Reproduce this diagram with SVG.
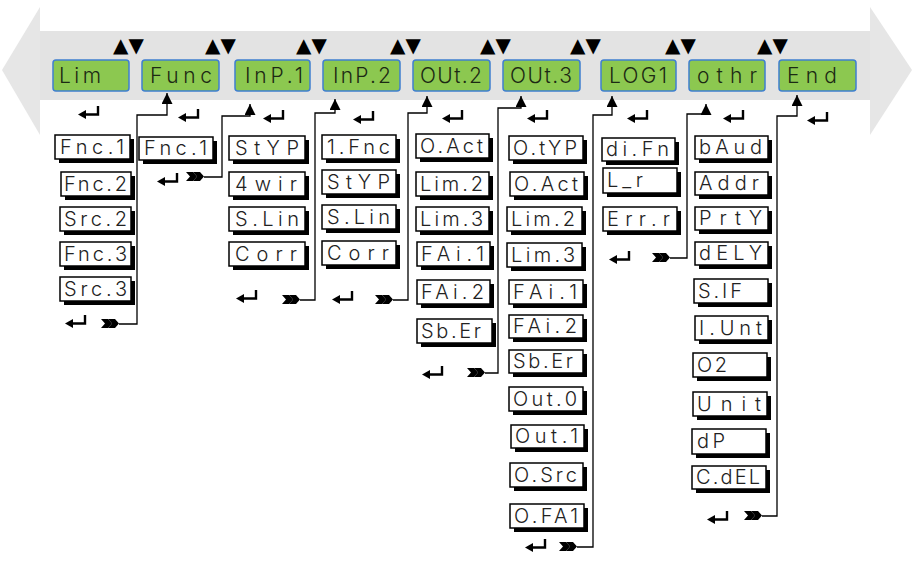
<svg xmlns="http://www.w3.org/2000/svg" width="914" height="563" viewBox="0 0 914 563">
<style>
.band{fill:#e3e3e3}
.head{fill:#e6e6e6}
.gbox{fill:#8cc850;stroke:#3f7fd0;stroke-width:1.5}
.gtxt{font-family:Inter,"DejaVu Sans",sans-serif;font-weight:300;font-size:21px;fill:#1c2a14}
.nav{font-family:"DejaVu Sans",sans-serif;font-size:20px;fill:#000}
.lcd{fill:#fff;stroke:#000;stroke-width:1.5}
.sh{fill:#000}
.ltxt{font-family:Inter,"DejaVu Sans",sans-serif;font-weight:300;font-size:20px;fill:#222}
.con{fill:none;stroke:#000;stroke-width:1.3}
</style>
<defs>
<marker id="ah" markerUnits="userSpaceOnUse" markerWidth="11" markerHeight="11" viewBox="0 0 10 10" refX="10" refY="5" orient="auto">
<path d="M0,0 L10,5 L0,10 z" fill="#000"/>
</marker>
<g id="ent">
<path d="M20,0 V8.5 H7" fill="none" stroke="#000" stroke-width="2.4"/>
<polygon points="0,8.5 8,4 8,13" fill="#000"/>
</g>
<g id="dbl">
<polygon points="0,0 7,0 11,4.5 7,9 0,9 4,4.5" fill="#000"/>
<polygon points="7,0 14,0 18,4.5 14,9 7,9 11,4.5" fill="#000"/>
</g>
</defs>
<rect width="914" height="563" fill="#fff"/>
<g id="banner">
<rect class="band" x="38" y="31" width="834" height="69"/>
<polygon class="head" points="40,7 2,70 40,135"/>
<polygon class="head" points="870,7 912,70 870,135"/>
</g>
<g id="menu">
<g id="m-lim"><rect class="gbox" x="53" y="60" width="76" height="31" rx="3"/><text class="gtxt" x="59" y="83" textLength="42" lengthAdjust="spacing">Lim</text></g>
<g id="m-func"><rect class="gbox" x="142" y="60" width="77" height="31" rx="3"/><text class="gtxt" x="150" y="83" textLength="62" lengthAdjust="spacing">Func</text></g>
<g id="m-inp1"><rect class="gbox" x="235" y="60" width="75" height="31" rx="3"/><text class="gtxt" x="245" y="83" textLength="58" lengthAdjust="spacing">InP.1</text></g>
<g id="m-inp2"><rect class="gbox" x="323" y="60" width="77" height="31" rx="3"/><text class="gtxt" x="333" y="83" textLength="58" lengthAdjust="spacing">InP.2</text></g>
<g id="m-out2"><rect class="gbox" x="413" y="60" width="77" height="31" rx="3"/><text class="gtxt" x="420" y="83" textLength="62" lengthAdjust="spacing">OUt.2</text></g>
<g id="m-out3"><rect class="gbox" x="503" y="60" width="77" height="31" rx="3"/><text class="gtxt" x="510" y="83" textLength="62" lengthAdjust="spacing">OUt.3</text></g>
<g id="m-log1"><rect class="gbox" x="601" y="60" width="75" height="31" rx="3"/><text class="gtxt" x="609" y="83" textLength="58" lengthAdjust="spacing">LOG1</text></g>
<g id="m-othr"><rect class="gbox" x="689" y="60" width="76" height="31" rx="3"/><text class="gtxt" x="697" y="83" textLength="60" lengthAdjust="spacing">othr</text></g>
<g id="m-end"><rect class="gbox" x="779" y="60" width="77" height="31" rx="3"/><text class="gtxt" x="787" y="83" textLength="50" lengthAdjust="spacing">End</text></g>
</g>
<g id="navkeys">
<text class="nav" x="113" y="52">▲▼</text>
<text class="nav" x="205" y="52">▲▼</text>
<text class="nav" x="296" y="52">▲▼</text>
<text class="nav" x="390" y="52">▲▼</text>
<text class="nav" x="480" y="52">▲▼</text>
<text class="nav" x="570" y="52">▲▼</text>
<text class="nav" x="665" y="52">▲▼</text>
<text class="nav" x="757" y="52">▲▼</text>
</g>
<g id="enterkeys">
<use href="#ent" x="78" y="106"/>
<use href="#ent" x="178" y="109"/>
<use href="#ent" x="263" y="110"/>
<use href="#ent" x="353" y="111"/>
<use href="#ent" x="442" y="110"/>
<use href="#ent" x="527" y="110"/>
<use href="#ent" x="627" y="110"/>
<use href="#ent" x="723" y="110"/>
<use href="#ent" x="807" y="112"/>
<use href="#ent" x="65" y="315"/>
<use href="#ent" x="157" y="173"/>
<use href="#ent" x="236" y="290"/>
<use href="#ent" x="332" y="291"/>
<use href="#ent" x="422" y="366"/>
<use href="#ent" x="525" y="539"/>
<use href="#ent" x="609" y="251"/>
<use href="#ent" x="707" y="511"/>
<use href="#dbl" x="101" y="319"/>
<use href="#dbl" x="186" y="172"/>
<use href="#dbl" x="282" y="295"/>
<use href="#dbl" x="375" y="295"/>
<use href="#dbl" x="467" y="368"/>
<use href="#dbl" x="559" y="542"/>
<use href="#dbl" x="652" y="253"/>
<use href="#dbl" x="744" y="511"/>
</g>
<g id="connectors">
<path class="con" d="M119,324 H137 V115 H167 V93" marker-end="url(#ah)"/>
<path class="con" d="M204,177 H222 V116 H250 V104" marker-end="url(#ah)"/>
<path class="con" d="M300,300 H315 V113 H335 V99" marker-end="url(#ah)"/>
<path class="con" d="M393,300 H408 V113 H427 V96" marker-end="url(#ah)"/>
<path class="con" d="M485,373 H498 V108 H521 V96" marker-end="url(#ah)"/>
<path class="con" d="M577,547 H593 V115 H612 V96" marker-end="url(#ah)"/>
<path class="con" d="M670,258 H687 V114 H706 V104" marker-end="url(#ah)"/>
<path class="con" d="M762,516 H777 V116 H797 V95" marker-end="url(#ah)"/>
</g>
<g id="col-lim">
<g id="lim-fnc1"><rect class="sh" x="59" y="139" width="75" height="24"/><rect class="lcd" x="55" y="135" width="75" height="24"/><text class="ltxt" x="60" y="154" textLength="64" lengthAdjust="spacing">Fnc.1</text></g>
<g id="lim-fnc2"><rect class="sh" x="65" y="176" width="70" height="24"/><rect class="lcd" x="61" y="172" width="70" height="24"/><text class="ltxt" x="64" y="191" textLength="63" lengthAdjust="spacing">Fnc.2</text></g>
<g id="lim-src2"><rect class="sh" x="64" y="211" width="71" height="24"/><rect class="lcd" x="60" y="207" width="71" height="24"/><text class="ltxt" x="64" y="226" textLength="63" lengthAdjust="spacing">Src.2</text></g>
<g id="lim-fnc3"><rect class="sh" x="64" y="246" width="71" height="24"/><rect class="lcd" x="60" y="242" width="71" height="24"/><text class="ltxt" x="64" y="261" textLength="63" lengthAdjust="spacing">Fnc.3</text></g>
<g id="lim-src3"><rect class="sh" x="64" y="281" width="71" height="24"/><rect class="lcd" x="60" y="277" width="71" height="24"/><text class="ltxt" x="64" y="296" textLength="63" lengthAdjust="spacing">Src.3</text></g>
</g>
<g id="col-func">
<g id="func-fnc1"><rect class="sh" x="143" y="141" width="74" height="23"/><rect class="lcd" x="139" y="137" width="74" height="23"/><text class="ltxt" x="144" y="155" textLength="63" lengthAdjust="spacing">Fnc.1</text></g>
</g>
<g id="col-inp1">
<g id="inp1-styp"><rect class="sh" x="233" y="140" width="76" height="24"/><rect class="lcd" x="229" y="136" width="76" height="24"/><text class="ltxt" x="235" y="155" textLength="64" lengthAdjust="spacing">StYP</text></g>
<g id="inp1-4wir"><rect class="sh" x="233" y="176" width="76" height="24"/><rect class="lcd" x="229" y="172" width="76" height="24"/><text class="ltxt" x="235" y="191" textLength="62" lengthAdjust="spacing">4wir</text></g>
<g id="inp1-slin"><rect class="sh" x="233" y="211" width="76" height="24"/><rect class="lcd" x="229" y="207" width="76" height="24"/><text class="ltxt" x="235" y="226" textLength="64" lengthAdjust="spacing">S.Lin</text></g>
<g id="inp1-corr"><rect class="sh" x="233" y="246" width="76" height="24"/><rect class="lcd" x="229" y="242" width="76" height="24"/><text class="ltxt" x="235" y="261" textLength="62" lengthAdjust="spacing">Corr</text></g>
</g>
<g id="col-inp2">
<g id="inp2-1fnc"><rect class="sh" x="326" y="139" width="74" height="24"/><rect class="lcd" x="322" y="135" width="74" height="24"/><text class="ltxt" x="327" y="154" textLength="63" lengthAdjust="spacing">1.Fnc</text></g>
<g id="inp2-styp"><rect class="sh" x="326" y="174" width="74" height="24"/><rect class="lcd" x="322" y="170" width="74" height="24"/><text class="ltxt" x="327" y="189" textLength="63" lengthAdjust="spacing">StYP</text></g>
<g id="inp2-slin"><rect class="sh" x="326" y="209" width="74" height="24"/><rect class="lcd" x="322" y="205" width="74" height="24"/><text class="ltxt" x="327" y="224" textLength="63" lengthAdjust="spacing">S.Lin</text></g>
<g id="inp2-corr"><rect class="sh" x="326" y="245" width="74" height="24"/><rect class="lcd" x="322" y="241" width="74" height="24"/><text class="ltxt" x="327" y="260" textLength="62" lengthAdjust="spacing">Corr</text></g>
</g>
<g id="col-out2">
<g id="out2-oact"><rect class="sh" x="420" y="138" width="73" height="24"/><rect class="lcd" x="416" y="134" width="73" height="24"/><text class="ltxt" x="420" y="153" textLength="63" lengthAdjust="spacing">O.Act</text></g>
<g id="out2-lim2"><rect class="sh" x="420" y="176" width="73" height="24"/><rect class="lcd" x="416" y="172" width="73" height="24"/><text class="ltxt" x="420" y="191" textLength="63" lengthAdjust="spacing">Lim.2</text></g>
<g id="out2-lim3"><rect class="sh" x="420" y="211" width="73" height="24"/><rect class="lcd" x="416" y="207" width="73" height="24"/><text class="ltxt" x="420" y="226" textLength="63" lengthAdjust="spacing">Lim.3</text></g>
<g id="out2-fai1"><rect class="sh" x="421" y="246" width="73" height="24"/><rect class="lcd" x="417" y="242" width="73" height="24"/><text class="ltxt" x="421" y="261" textLength="63" lengthAdjust="spacing">FAi.1</text></g>
<g id="out2-fai2"><rect class="sh" x="421" y="284" width="73" height="24"/><rect class="lcd" x="417" y="280" width="73" height="24"/><text class="ltxt" x="421" y="299" textLength="63" lengthAdjust="spacing">FAi.2</text></g>
<g id="out2-sber"><rect class="sh" x="421" y="323" width="75" height="24"/><rect class="lcd" x="417" y="319" width="75" height="24"/><text class="ltxt" x="421" y="338" textLength="60" lengthAdjust="spacing">Sb.Er</text></g>
</g>
<g id="col-out3">
<g id="out3-otyp"><rect class="sh" x="513" y="140" width="74" height="24"/><rect class="lcd" x="509" y="136" width="74" height="24"/><text class="ltxt" x="513" y="155" textLength="64" lengthAdjust="spacing">O.tYP</text></g>
<g id="out3-oact"><rect class="sh" x="514" y="176" width="74" height="24"/><rect class="lcd" x="510" y="172" width="74" height="24"/><text class="ltxt" x="514" y="191" textLength="64" lengthAdjust="spacing">O.Act</text></g>
<g id="out3-lim2"><rect class="sh" x="511" y="211" width="75" height="24"/><rect class="lcd" x="507" y="207" width="75" height="24"/><text class="ltxt" x="511" y="226" textLength="64" lengthAdjust="spacing">Lim.2</text></g>
<g id="out3-lim3"><rect class="sh" x="511" y="247" width="75" height="24"/><rect class="lcd" x="507" y="243" width="75" height="24"/><text class="ltxt" x="511" y="262" textLength="64" lengthAdjust="spacing">Lim.3</text></g>
<g id="out3-fai1"><rect class="sh" x="513" y="284" width="74" height="24"/><rect class="lcd" x="509" y="280" width="74" height="24"/><text class="ltxt" x="513" y="299" textLength="64" lengthAdjust="spacing">FAi.1</text></g>
<g id="out3-fai2"><rect class="sh" x="513" y="319" width="74" height="23"/><rect class="lcd" x="509" y="315" width="74" height="23"/><text class="ltxt" x="513" y="333" textLength="64" lengthAdjust="spacing">FAi.2</text></g>
<g id="out3-sber"><rect class="sh" x="513" y="354" width="74" height="23"/><rect class="lcd" x="509" y="350" width="74" height="23"/><text class="ltxt" x="513" y="368" textLength="60" lengthAdjust="spacing">Sb.Er</text></g>
<g id="out3-out0"><rect class="sh" x="513" y="391" width="74" height="24"/><rect class="lcd" x="509" y="387" width="74" height="24"/><text class="ltxt" x="513" y="406" textLength="64" lengthAdjust="spacing">Out.0</text></g>
<g id="out3-out1"><rect class="sh" x="515" y="429" width="73" height="23"/><rect class="lcd" x="511" y="425" width="73" height="23"/><text class="ltxt" x="515" y="443" textLength="63" lengthAdjust="spacing">Out.1</text></g>
<g id="out3-osrc"><rect class="sh" x="514" y="467" width="73" height="24"/><rect class="lcd" x="510" y="463" width="73" height="24"/><text class="ltxt" x="514" y="482" textLength="63" lengthAdjust="spacing">O.Src</text></g>
<g id="out3-ofa1"><rect class="sh" x="514" y="508" width="74" height="24"/><rect class="lcd" x="510" y="504" width="74" height="24"/><text class="ltxt" x="514" y="523" textLength="64" lengthAdjust="spacing">O.FA1</text></g>
</g>
<g id="col-log1">
<g id="log1-difn"><rect class="sh" x="606" y="142" width="73" height="23"/><rect class="lcd" x="602" y="138" width="73" height="23"/><text class="ltxt" x="606" y="156" textLength="63" lengthAdjust="spacing">di.Fn</text></g>
<g id="log1-lr"><rect class="sh" x="607" y="172" width="74" height="25"/><rect class="lcd" x="603" y="168" width="74" height="25"/><text class="ltxt" x="607" y="187" textLength="36" lengthAdjust="spacing">L_r</text></g>
<g id="log1-errr"><rect class="sh" x="607" y="211" width="74" height="24"/><rect class="lcd" x="603" y="207" width="74" height="24"/><text class="ltxt" x="607" y="226" textLength="63" lengthAdjust="spacing">Err.r</text></g>
</g>
<g id="col-othr">
<g id="othr-baud"><rect class="sh" x="699" y="140" width="73" height="23"/><rect class="lcd" x="695" y="136" width="73" height="23"/><text class="ltxt" x="699" y="154" textLength="63" lengthAdjust="spacing">bAud</text></g>
<g id="othr-addr"><rect class="sh" x="699" y="176" width="73" height="23"/><rect class="lcd" x="695" y="172" width="73" height="23"/><text class="ltxt" x="699" y="190" textLength="60" lengthAdjust="spacing">Addr</text></g>
<g id="othr-prty"><rect class="sh" x="699" y="211" width="73" height="23"/><rect class="lcd" x="695" y="207" width="73" height="23"/><text class="ltxt" x="699" y="225" textLength="63" lengthAdjust="spacing">PrtY</text></g>
<g id="othr-dely"><rect class="sh" x="699" y="246" width="73" height="23"/><rect class="lcd" x="695" y="242" width="73" height="23"/><text class="ltxt" x="699" y="260" textLength="63" lengthAdjust="spacing">dELY</text></g>
<g id="othr-sif"><rect class="sh" x="698" y="283" width="74" height="24"/><rect class="lcd" x="694" y="279" width="74" height="24"/><text class="ltxt" x="698" y="298" textLength="44" lengthAdjust="spacing">S.IF</text></g>
<g id="othr-iunt"><rect class="sh" x="699" y="320" width="73" height="24"/><rect class="lcd" x="695" y="316" width="73" height="24"/><text class="ltxt" x="699" y="335" textLength="63" lengthAdjust="spacing">I.Unt</text></g>
<g id="othr-o2"><rect class="sh" x="697" y="357" width="74" height="24"/><rect class="lcd" x="693" y="353" width="74" height="24"/><text class="ltxt" x="697" y="372" textLength="30" lengthAdjust="spacing">O2</text></g>
<g id="othr-unit"><rect class="sh" x="697" y="396" width="74" height="24"/><rect class="lcd" x="693" y="392" width="74" height="24"/><text class="ltxt" x="697" y="411" textLength="64" lengthAdjust="spacing">Unit</text></g>
<g id="othr-dp"><rect class="sh" x="696" y="433" width="74" height="25"/><rect class="lcd" x="692" y="429" width="74" height="25"/><text class="ltxt" x="697" y="448" textLength="28" lengthAdjust="spacing">dP</text></g>
<g id="othr-cdel"><rect class="sh" x="696" y="470" width="74" height="23"/><rect class="lcd" x="692" y="466" width="74" height="23"/><text class="ltxt" x="696" y="484" textLength="64" lengthAdjust="spacing">C.dEL</text></g>
</g>
</svg>
